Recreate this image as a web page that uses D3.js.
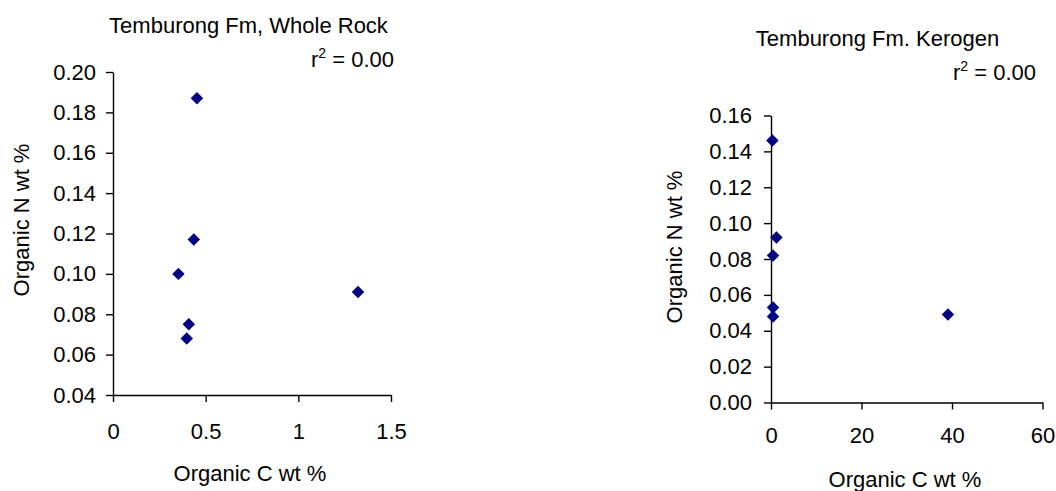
<!DOCTYPE html>
<html>
<head>
<meta charset="utf-8">
<script src="https://cdn.jsdelivr.net/npm/d3@7"></script>
<style>
  html, body { margin: 0; padding: 0; background: #fff; }
  svg text { font-family: "Liberation Sans", Arial, sans-serif; fill: #000; }
</style>
</head>
<body>
<svg id="chart" width="1056" height="491"></svg>
<script>
// Whole-rock samples: organic carbon vs organic nitrogen (wt %)
const wholeRockC = [0.453, 0.436, 0.353, 1.322, 0.409, 0.398];
const wholeRockN = [0.187, 0.117, 0.100, 0.091, 0.075, 0.068];

// Kerogen isolates: organic carbon vs organic nitrogen (wt %)
const kerogenC = [0.3, 1.2, 0.45, 0.45, 0.45, 39.1];
const kerogenN = [0.146, 0.092, 0.082, 0.053, 0.048, 0.049];

const wholeRockXTicks = [0, 0.5, 1, 1.5];
const wholeRockYTicks = [0.04, 0.06, 0.08, 0.10, 0.12, 0.14, 0.16, 0.18, 0.20];
const kerogenXTicks = [0, 20, 40, 60];
const kerogenYTicks = [0, 0.02, 0.04, 0.06, 0.08, 0.10, 0.12, 0.14, 0.16];

const titles = ["Temburong Fm, Whole Rock", "Temburong Fm. Kerogen"];
const xLabel = "Organic C wt %";
const yLabel = "Organic N wt %";
const r2Text = "0.00";

const svg = d3.select("#chart");
const FONT = 22;
const markColor = "#000080";
const diamond = d3.symbol().type(d3.symbolSquare).size(78);

const panels = [
  {
    xs: wholeRockC, ys: wholeRockN, xTicks: wholeRockXTicks, yTicks: wholeRockYTicks,
    xFmt: d3.format(""), yFmt: d3.format(".2f"),
    x: d3.scaleLinear().domain([0, 1.5]).range([113, 391]),
    y: d3.scaleLinear().domain([0.04, 0.20]).range([395, 72]),
    xPad: 21, yPad: 10,
    title: titles[0], titleX: 248.5, titleY: 32.5,
    r2X: 394, r2Y: 66.5,
    xLabelX: 250, xLabelY: 481,
    yLabelX: 28.5, yLabelY: 220
  },
  {
    xs: kerogenC, ys: kerogenN, xTicks: kerogenXTicks, yTicks: kerogenYTicks,
    xFmt: d3.format("d"), yFmt: d3.format(".2f"),
    x: d3.scaleLinear().domain([0, 60]).range([771, 1042.5]),
    y: d3.scaleLinear().domain([0, 0.16]).range([402.5, 115.5]),
    xPad: 18, yPad: 12,
    title: titles[1], titleX: 877.5, titleY: 46,
    r2X: 1036, r2Y: 80,
    xLabelX: 905, xLabelY: 487,
    yLabelX: 682, yLabelY: 247
  }
];

panels.forEach(p => {
  const g = svg.append("g");
  const x0 = p.x.range()[0];
  const y0 = p.y.range()[0];

  // x axis
  const xAxis = d3.axisBottom(p.x).tickValues(p.xTicks).tickFormat(p.xFmt)
    .tickSizeInner(7).tickSizeOuter(0).tickPadding(p.xPad);
  const xg = g.append("g").attr("transform", `translate(0,${y0})`).call(xAxis);

  // y axis
  const yAxis = d3.axisLeft(p.y).tickValues(p.yTicks).tickFormat(p.yFmt)
    .tickSizeInner(7).tickSizeOuter(0).tickPadding(p.yPad);
  const yg = g.append("g").attr("transform", `translate(${x0},0)`).call(yAxis);

  [xg, yg].forEach(a => {
    a.selectAll("path.domain").attr("stroke", "#000").attr("stroke-width", 1.4);
    a.selectAll(".tick line").attr("stroke", "#000").attr("stroke-width", 1.4);
    a.selectAll(".tick text")
      .style("font-family", '"Liberation Sans", Arial, sans-serif')
      .style("font-size", FONT + "px").attr("fill", "#000");
  });

  // points
  g.append("g").selectAll("path")
    .data(p.xs.map((v, i) => [v, p.ys[i]]))
    .join("path")
    .attr("d", diamond)
    .attr("transform", d => `translate(${p.x(d[0])},${p.y(d[1])}) rotate(45)`)
    .attr("fill", markColor);

  // title
  g.append("text")
    .attr("x", p.titleX).attr("y", p.titleY)
    .attr("text-anchor", "middle")
    .style("font-size", FONT + "px")
    .text(p.title);

  // r-squared note
  const r2 = g.append("text")
    .attr("x", p.r2X).attr("y", p.r2Y)
    .attr("text-anchor", "end")
    .style("font-size", FONT + "px");
  r2.append("tspan").text("r");
  r2.append("tspan").attr("dy", -9).style("font-size", "14px").text("2");
  r2.append("tspan").attr("dy", 9).text(" = " + r2Text);

  // axis titles
  g.append("text")
    .attr("x", p.xLabelX).attr("y", p.xLabelY)
    .attr("text-anchor", "middle")
    .style("font-size", FONT + "px")
    .text(xLabel);

  g.append("text")
    .attr("transform", `translate(${p.yLabelX},${p.yLabelY}) rotate(-90)`)
    .attr("text-anchor", "middle")
    .style("font-size", FONT + "px")
    .text(yLabel);
});
</script>
</body>
</html>
